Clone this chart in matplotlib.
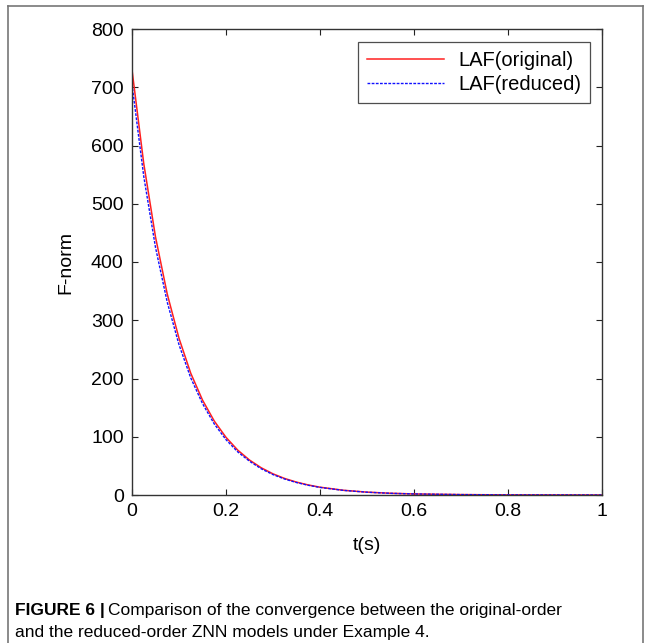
import matplotlib
matplotlib.use("Agg")
import matplotlib.pyplot as plt
from matplotlib import font_manager
from matplotlib.lines import Line2D

t = [0, 0.025, 0.05, 0.075, 0.1, 0.125, 0.15, 0.175, 0.2, 0.225, 0.25, 0.275,
     0.3, 0.325, 0.35, 0.375, 0.4, 0.45, 0.5, 0.55, 0.6, 0.7, 0.8, 0.9, 1.0]
f_original = [730, 569, 443, 345, 269, 209, 163, 127, 99, 77, 60, 46.7,
              36.3, 28.3, 22.1, 17.2, 13.4, 8.1, 4.9, 3.0, 1.8, 0.7, 0.2, 0.1, 0.0]
f_reduced = [705, 547, 425, 331, 258, 201, 157, 122, 95, 74, 58, 45,
             35, 27.4, 21.4, 16.7, 13.0, 7.9, 4.8, 2.9, 1.8, 0.7, 0.2, 0.1, 0.0]
labels = ["LAF(original)", "LAF(reduced)"]
xticks = [0, 0.2, 0.4, 0.6, 0.8, 1]
yticks = [0, 100, 200, 300, 400, 500, 600, 700, 800]

names = {f.name for f in font_manager.fontManager.ttflist}
main_font = "Liberation Sans" if "Liberation Sans" in names else "DejaVu Sans"
cap_font = "Liberation Sans Narrow" if "Liberation Sans Narrow" in names else main_font

W, H = 651, 643
fig = plt.figure(figsize=(W / 100, H / 100), dpi=100)
fig.patch.set_facecolor("white")

# outer frame (left, top, right)
fig.add_artist(Line2D([8 / W, 8 / W], [0, 1 - 6 / H], color="#777777", lw=1.2))
fig.add_artist(Line2D([8 / W, 1 - 8 / W], [1 - 6 / H, 1 - 6 / H], color="#777777", lw=1.2))
fig.add_artist(Line2D([1 - 8 / W, 1 - 8 / W], [0, 1 - 6 / H], color="#777777", lw=1.2))

left, right, top, bottom = 132, 602, 29, 495
ax = fig.add_axes([left / W, 1 - bottom / H, (right - left) / W, (bottom - top) / H])
ax.plot(t, f_original, color="#ff2020", lw=1.1, label=labels[0])
ax.plot(t, f_reduced, color="#1010ff", lw=1.0, ls=(0, (2, 1)), label=labels[1])
ax.set_xlim(0, 1)
ax.set_ylim(0, 800)
ax.set_xticks(xticks)
ax.set_xticklabels(["0", "0.2", "0.4", "0.6", "0.8", "1"])
ax.set_yticks(yticks)
ax.tick_params(direction="in", top=True, right=True, length=4, width=0.8,
               labelsize=14, pad=6, colors="#222222")
for lab in ax.get_xticklabels() + ax.get_yticklabels():
    lab.set_family(main_font)
    lab.set_color("black")
for s in ax.spines.values():
    s.set_color("#333333")
    s.set_linewidth(1.0)
ax.set_xlabel("t(s)", fontsize=14, family=main_font, labelpad=12)
ax.set_ylabel("F-norm", fontsize=14, family=main_font, labelpad=12)

leg = ax.legend(loc="upper right", bbox_to_anchor=(0.9745, 0.972),
                prop={"family": main_font, "size": 14.5}, frameon=True,
                fancybox=False, edgecolor="#222222", handlelength=3.8,
                borderpad=0.45, labelspacing=0.25, handletextpad=0.7,
                borderaxespad=0)
leg.get_frame().set_linewidth(0.9)

fs_cap = 12.5
cap1_bold = fig.text(15 / W, 1 - 610 / H, "FIGURE 6 |", fontsize=fs_cap,
                     family=cap_font, weight="bold", va="center", ha="left")
fig.canvas.draw()
bb = cap1_bold.get_window_extent()
fig.text((bb.x1 + 3) / W, 1 - 610 / H,
         "Comparison of the convergence between the original-order",
         fontsize=fs_cap, family=cap_font, va="center", ha="left")
fig.text(15 / W, 1 - 633 / H,
         "and the reduced-order ZNN models under Example 4.",
         fontsize=fs_cap, family=cap_font, va="center", ha="left")

fig.savefig("out.png", dpi=100)
